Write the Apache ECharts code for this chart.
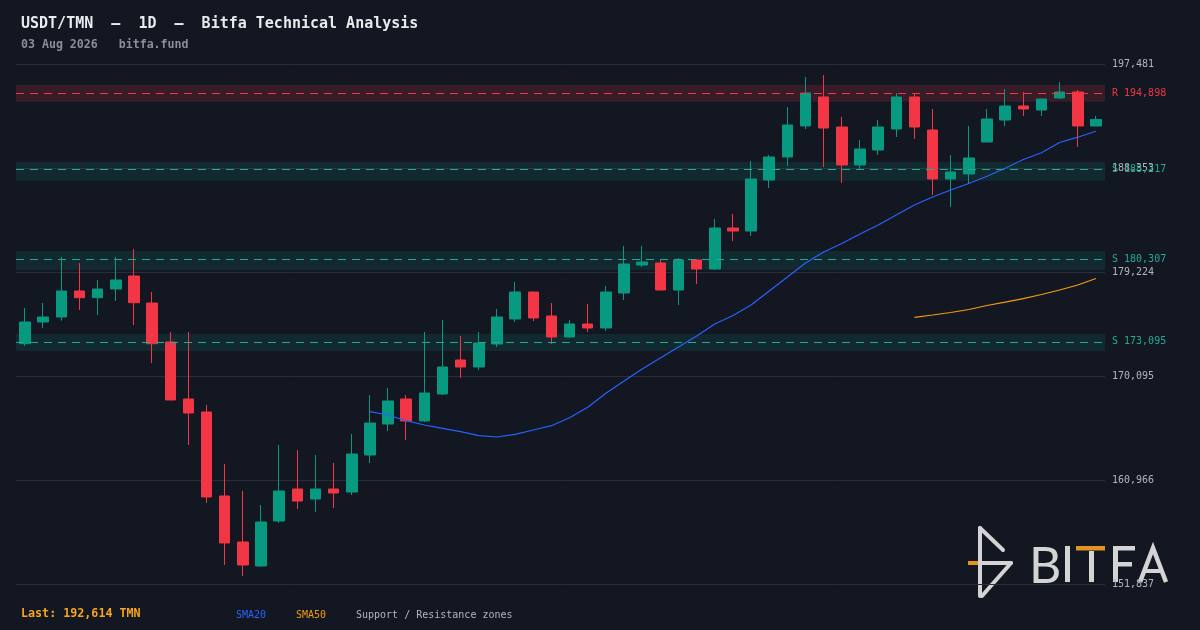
<!DOCTYPE html>
<html><head><meta charset="utf-8">
<script src="https://cdn.jsdelivr.net/npm/echarts@6/dist/echarts.min.js"></script>
<style>html,body{margin:0;padding:0;background:#131722;}#c{width:1200px;height:630px;}</style>
</head><body><div id="c"></div>
<script>
// ---- data ----
const opens  = [172930,174835,175273,177556,176968,177731,178872,176502,173079,168076,166935,159561,155524,153417,157367,160176,159298,160176,159912,163160,165881,168076,166145,168515,171499,170885,172903,175098,177468,175361,173518,174659,174308,177380,179838,180013,177643,180277,179487,183086,182822,187299,189318,192039,194584,191951,188616,189932,191775,194584,191688,187387,187826,190634,192565,193794,193443,194497,195023,192039];
const closes = [174835,175273,177556,176968,177731,178521,176529,172930,167988,166847,159474,155436,153505,157279,160000,159122,160176,159825,163248,165969,167900,166145,168602,170885,170885,172991,175273,177468,175186,173518,174659,174308,177468,179926,180101,177643,180277,179487,183086,182822,187387,189318,192127,194935,191863,188616,190020,191951,194584,191951,187387,188001,189230,192653,193794,193531,194409,195023,192039,192614];
const highs  = [176063,176502,180540,180013,178521,180540,181242,177468,173957,173957,167549,162370,160000,158771,164038,163599,163160,162458,165004,168427,169041,168427,173957,175010,173606,173957,175976,178346,177468,176502,175010,176415,177995,181506,181506,180277,180452,180364,183876,184314,188967,189493,193707,196340,196515,192829,190810,192565,194935,194935,193531,189493,192039,193531,195287,195023,194409,195901,195199,192917];
const lows   = [172728,174308,174949,175888,175449,176678,174571,171236,167988,164038,158947,153505,152539,153329,157191,158420,158157,158508,159649,162458,165267,164477,166057,168427,169919,170621,172640,174835,174922,172903,173430,173957,174045,176766,179662,177643,176327,178170,179399,181944,182383,186597,188528,191775,188440,187036,188177,189493,191073,190898,185982,184929,186948,190634,192039,192917,192917,194409,190196,192039];

const sma20Start = 19;
const sma20Values = [166961,166671,166171,165793,165504,165205,164854,164740,164977,165355,165732,166434,167347,168576,169656,170709,171675,172640,173606,174659,175405,176327,177556,178784,180013,180979,181725,182559,183349,184227,185104,185807,186421,186992,187624,188326,189098,189695,190590,191056,191574];
const sma50Start = 49;
const sma50Values = [175247,175449,175668,175932,176283,176572,176880,177248,177643,178082,178653];

const zoneTypes  = ['R','S','S','S'];
const zoneLevels = [194898,188217,180307,173095];
const zoneLows   = [194172,187237,179399,172289];
const zoneHighs  = [195638,188879,181066,173781];

const axisMin = 151837, axisMax = 197481;
const tickLabels = ['151,837','160,966','170,095','179,224','188,353','197,481'];

const titleText = 'USDT/TMN  \u2014  1D  \u2014  Bitfa Technical Analysis';
const subText = '03 Aug 2026   bitfa.fund';
const endDate = '2026-08-03';

// ---- build ----
const fmt = v => v.toLocaleString('en-US');
const n = closes.length;
const categories = [];
const endMs = Date.parse(endDate + 'T00:00:00Z');
for (let i = 0; i < n; i++) categories.push(new Date(endMs - (n - 1 - i) * 86400000).toISOString().slice(0, 10));
const candleData = opens.map((o, i) => [o, closes[i], lows[i], highs[i]]);
const sma20Data = categories.map((_, i) => i >= sma20Start ? sma20Values[i - sma20Start] : null);
const sma50Data = categories.map((_, i) => i >= sma50Start ? sma50Values[i - sma50Start] : null);

const UP = '#089981', DOWN = '#f23645', TEAL = '#22ab94', ORANGE = '#f39c12';
const MONO = '"DejaVu Sans Mono", monospace';

const zoneColor = t => t === 'R' ? 'rgba(242,54,69,0.17)' : 'rgba(8,153,129,0.14)';
const lineColor = t => t === 'R' ? DOWN : TEAL;

const chart = echarts.init(document.getElementById('c'), null, {renderer: 'canvas'});
const LOGO = '#d4d4d4', LOGO_OR = '#e39322';
chart.setOption({
  animation: false,
  backgroundColor: '#131722',
  grid: {left: 16, right: 95, top: 64, bottom: 46},
  xAxis: {type: 'category', data: categories, boundaryGap: true, show: false},
  yAxis: [
    {type: 'value', min: axisMin, max: axisMax, show: false, scale: true},
    {type: 'value', min: 0, max: 5, interval: 1, position: 'right',
     axisLine: {show: false}, axisTick: {show: false},
     axisLabel: {formatter: v => tickLabels[Math.round(v)], color: '#b2b5be', fontFamily: MONO, fontSize: 10, margin: 7},
     splitLine: {show: true, lineStyle: {color: '#2a2e39', width: 1}}}
  ],
  series: [
    {
      name: 'zones', type: 'line', yAxisIndex: 0, z: 1, silent: true,
      data: categories.map(() => null), showSymbol: false,
      markArea: {silent: true, data: zoneLevels.map((_, i) => [
        {yAxis: zoneLows[i], itemStyle: {color: zoneColor(zoneTypes[i])}},
        {yAxis: zoneHighs[i]}
      ])},
      markLine: {silent: true, symbol: ['none', 'none'], data: zoneLevels.map((lvl, i) => ({
        yAxis: lvl,
        lineStyle: {color: lineColor(zoneTypes[i]), type: [8, 6], width: 1},
        label: {show: true, position: 'end', distance: 7, formatter: zoneTypes[i] + ' ' + fmt(lvl),
                color: lineColor(zoneTypes[i]), fontFamily: MONO, fontSize: 10}
      }))}
    },
    {
      name: 'USDT/TMN', type: 'candlestick', yAxisIndex: 0, z: 3, barWidth: 11,
      data: candleData,
      itemStyle: {color: UP, color0: DOWN, borderColor: UP, borderColor0: DOWN, borderWidth: 1}
    },
    {name: 'SMA20', type: 'line', yAxisIndex: 0, z: 4, data: sma20Data, showSymbol: false,
     lineStyle: {color: '#2962ff', width: 1.2}},
    {name: 'SMA50', type: 'line', yAxisIndex: 0, z: 4, data: sma50Data, showSymbol: false,
     lineStyle: {color: ORANGE, width: 1.2}}
  ],
  graphic: {elements: [
    {type: 'text', x: 21, y: 24, style: {text: titleText, fill: '#e8eaed', font: 'bold 15px ' + MONO, verticalAlign: 'middle'}},
    {type: 'text', x: 21, y: 45, style: {text: subText, fill: '#8a8e99', font: 'bold 11.6px ' + MONO, verticalAlign: 'middle'}},
    {type: 'text', x: 21, y: 614, style: {text: 'Last: ' + fmt(closes[n - 1]) + ' TMN', fill: '#f7a521', font: 'bold 11.7px ' + MONO, verticalAlign: 'middle'}},
    {type: 'text', x: 236, y: 615, style: {text: 'SMA20', fill: '#2962ff', font: '10px ' + MONO, verticalAlign: 'middle'}},
    {type: 'text', x: 296, y: 615, style: {text: 'SMA50', fill: ORANGE, font: '10px ' + MONO, verticalAlign: 'middle'}},
    {type: 'text', x: 356, y: 615, style: {text: 'Support / Resistance zones', fill: '#b2b5be', font: '10px ' + MONO, verticalAlign: 'middle'}},
    // logo icon
    {type: 'line', shape: {x1: 980, y1: 528, x2: 980, y2: 596}, style: {stroke: LOGO, lineWidth: 4, lineCap: 'round'}},
    {type: 'line', shape: {x1: 980, y1: 528, x2: 1003, y2: 550}, style: {stroke: LOGO, lineWidth: 4, lineCap: 'round'}},
    {type: 'line', shape: {x1: 980, y1: 563, x2: 1011, y2: 563}, style: {stroke: LOGO, lineWidth: 4, lineCap: 'round'}},
    {type: 'line', shape: {x1: 968, y1: 563, x2: 978, y2: 563}, style: {stroke: LOGO_OR, lineWidth: 4}},
    {type: 'line', shape: {x1: 1011, y1: 563, x2: 982, y2: 596}, style: {stroke: LOGO, lineWidth: 4, lineCap: 'round'}},
    // logo letters
    {type: 'text', x: 1029, y: 567, style: {text: 'B', fill: LOGO, font: '50px Lato', verticalAlign: 'middle'}},
    {type: 'rect', shape: {x: 1065, y: 546, width: 5, height: 36}, style: {fill: LOGO}},
    {type: 'rect', shape: {x: 1076, y: 546, width: 29, height: 4.5}, style: {fill: LOGO_OR}},
    {type: 'rect', shape: {x: 1089, y: 551, width: 5, height: 31}, style: {fill: LOGO}},
    {type: 'rect', shape: {x: 1113, y: 546, width: 5, height: 36}, style: {fill: LOGO}},
    {type: 'rect', shape: {x: 1113, y: 546, width: 22, height: 4.5}, style: {fill: LOGO}},
    {type: 'rect', shape: {x: 1113, y: 562, width: 19, height: 4.5}, style: {fill: LOGO}},
    {type: 'polyline', shape: {points: [[1140, 582], [1153, 548], [1166, 582]]}, style: {stroke: LOGO, lineWidth: 4.5, fill: null}},
    {type: 'line', shape: {x1: 1145, y1: 571, x2: 1161, y2: 571}, style: {stroke: LOGO, lineWidth: 4}}
  ]}
});
</script></body></html>
